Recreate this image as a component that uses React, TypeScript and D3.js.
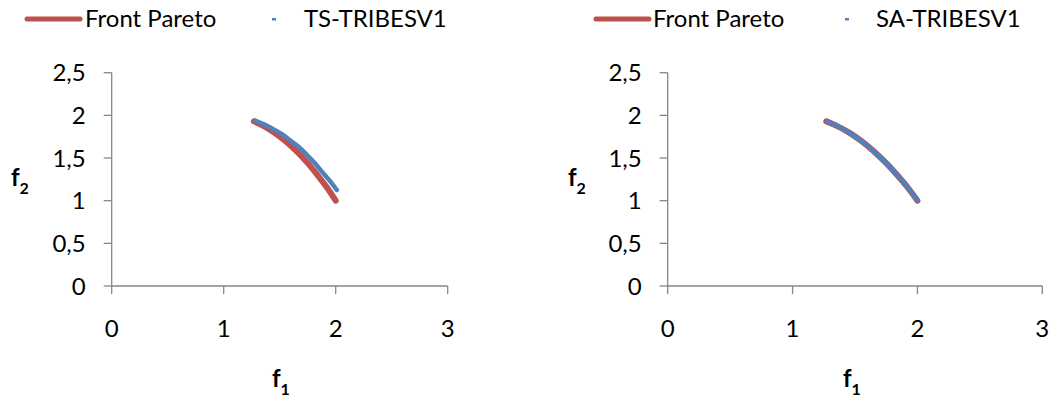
import { scaleLinear, line, curveMonotoneX } from "d3";

// Pareto front (shared by both panels)
const paretoF1 = [1.27, 1.35, 1.45, 1.55, 1.65, 1.75, 1.85, 1.93, 2.0];
const paretoF2 = [1.93, 1.88, 1.8, 1.7, 1.58, 1.44, 1.28, 1.14, 1.0];

// TS-TRIBESV1 solutions
const tsF1 = [1.28, 1.35, 1.44, 1.52, 1.59, 1.67, 1.74, 1.82, 1.89, 1.95, 2.01];
const tsF2 = [1.94, 1.9, 1.84, 1.78, 1.71, 1.63, 1.54, 1.43, 1.32, 1.23, 1.125];

// SA-TRIBESV1 solutions
const saF1 = [1.28, 1.36, 1.46, 1.56, 1.66, 1.76, 1.86, 1.94, 2.0];
const saF2 = [1.925, 1.875, 1.79, 1.69, 1.565, 1.425, 1.265, 1.12, 1.005];

const xTicks = [0, 1, 2, 3];
const yTicks = [0, 0.5, 1, 1.5, 2, 2.5];

const RED = "#C0504D";
const BLUE = "#4F81BD";
const AXIS = "#868686";
const FONT = "Lato, 'Open Sans', sans-serif";

type PanelProps = {
  x0: number;
  x1: number;
  seriesName: string;
  f1: number[];
  f2: number[];
  legendLine: number;
  legendText: number;
  legendDot: number;
  legendText2: number;
  f1Label: number;
  f2Label: number;
};

function Panel(p: PanelProps) {
  const x = scaleLinear().domain([0, 3]).range([p.x0, p.x1]);
  const y = scaleLinear().domain([0, 2.5]).range([286, 72.7]);

  const path = line<[number, number]>()
    .x((d) => x(d[0]))
    .y((d) => y(d[1]))
    .curve(curveMonotoneX);

  const pareto = paretoF1.map((v, i) => [v, paretoF2[i]] as [number, number]);
  const sol = p.f1.map((v, i) => [v, p.f2[i]] as [number, number]);

  return (
    <g fontFamily={FONT}>
      {/* legend */}
      <line x1={p.legendLine} x2={p.legendLine + 53} y1={19} y2={19} stroke={RED} strokeWidth={5} strokeLinecap="round" />
      <text x={p.legendText} y={27} fontSize={24} fill="#000">Front Pareto</text>
      <rect x={p.legendDot} y={18} width={4} height={2.5} fill={BLUE} />
      <text x={p.legendText2} y={27} fontSize={24} fill="#000">{p.seriesName}</text>

      {/* axes */}
      <line x1={x(0)} x2={x(0)} y1={y(2.5)} y2={y(0)} stroke={AXIS} strokeWidth={1.3} />
      <line x1={x(0)} x2={x(3)} y1={y(0)} y2={y(0)} stroke={AXIS} strokeWidth={1.3} />
      {yTicks.map((t) => (
        <g key={t}>
          <line x1={x(0) - 8} x2={x(0)} y1={y(t)} y2={y(t)} stroke={AXIS} strokeWidth={1.3} />
          <text x={x(0) - 26} y={y(t)} dy="0.36em" textAnchor="end" fontSize={24} fill="#000">
            {String(t).replace(".", ",")}
          </text>
        </g>
      ))}
      {xTicks.map((t) => (
        <g key={t}>
          <line x1={x(t)} x2={x(t)} y1={y(0)} y2={y(0) + 8} stroke={AXIS} strokeWidth={1.3} />
          <text x={x(t)} y={337} textAnchor="middle" fontSize={24} fill="#000">{t}</text>
        </g>
      ))}

      {/* axis titles */}
      <text x={p.f1Label} y={387} fontSize={24} fontWeight="bold" fill="#000">
        f<tspan fontSize={16} dy={8}>1</tspan>
      </text>
      <text x={p.f2Label} y={186} fontSize={24} fontWeight="bold" fill="#000">
        f<tspan fontSize={16} dy={8}>2</tspan>
      </text>

      {/* series */}
      <path d={path(pareto) ?? ""} fill="none" stroke={RED} strokeWidth={6} strokeLinecap="round" />
      <path d={path(sol) ?? ""} fill="none" stroke={BLUE} strokeWidth={4.5} strokeLinecap="round" />
    </g>
  );
}

export default function App() {
  return (
    <svg width={1053} height={403} style={{ position: "absolute", left: 0, top: 0, background: "#fff" }}>
      <rect width={1053} height={403} fill="#fff" />
      <Panel
        x0={111.7}
        x1={447.7}
        seriesName="TS-TRIBESV1"
        f1={tsF1}
        f2={tsF2}
        legendLine={27}
        legendText={85}
        legendDot={272}
        legendText2={304}
        f1Label={272}
        f2Label={11}
      />
      <Panel
        x0={667.7}
        x1={1042.3}
        seriesName="SA-TRIBESV1"
        f1={saF1}
        f2={saF2}
        legendLine={596}
        legendText={653}
        legendDot={845}
        legendText2={876}
        f1Label={843}
        f2Label={568}
      />
    </svg>
  );
}
